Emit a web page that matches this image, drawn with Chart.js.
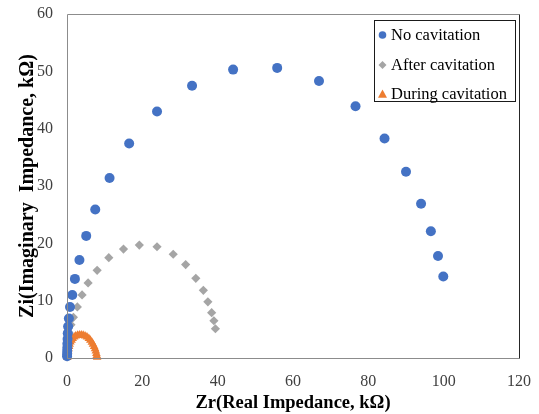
<!DOCTYPE html>
<html>
<head>
<meta charset="utf-8">
<script src="https://cdn.jsdelivr.net/npm/chart.js@4.4.1/dist/chart.umd.min.js"></script>
<style>
  html, body { margin: 0; padding: 0; background: #fff; }
  #wrap { width: 539px; height: 414px; }
</style>
</head>
<body>
<div id="wrap"><canvas id="c" width="539" height="414"></canvas></div>
<script>
// ---- data ----
const seriesNames = ["No cavitation", "After cavitation", "During cavitation"];

const noCavX = [0.02,0.03,0.05,0.08,0.1,0.15,0.2,0.3,0.5,0.8,1.4,2.1,3.3,5.1,7.5,11.3,16.5,23.9,33.2,44.1,55.8,66.9,76.6,84.3,90.0,94.0,96.6,98.5,99.9];
const noCavY = [0.3,0.7,1.2,1.8,2.5,3.3,4.3,5.5,6.9,8.9,11.0,13.8,17.1,21.3,25.9,31.4,37.4,43.0,47.5,50.3,50.6,48.3,43.9,38.3,32.5,26.9,22.1,17.8,14.2];

const afterCavX = [0.02,0.05,0.1,0.2,0.3,0.5,1.06,1.7,2.75,4.0,5.6,8.0,11.1,15.0,19.2,23.9,28.2,31.5,34.2,36.2,37.4,38.4,39.0,39.4];
const afterCavY = [0.2,0.7,1.4,2.2,3.2,4.4,5.8,7.1,8.9,11.0,13.1,15.3,17.5,19.0,19.7,19.4,18.1,16.3,13.9,11.8,9.8,7.9,6.5,5.1];

const duringCavX = [0.1,0.15,0.2,0.3,0.4,0.55,0.7,0.9,1.2,1.5,1.9,2.3,2.8,3.3,3.8,4.3,4.8,5.3,5.8,6.2,6.6,6.9,7.2,7.45,7.65,7.8,7.9,8.0];
const duringCavY = [0.1,0.4,0.8,1.2,1.6,2.0,2.4,2.8,3.1,3.4,3.65,3.85,3.95,4.0,4.0,3.95,3.85,3.65,3.4,3.1,2.75,2.4,2.0,1.6,1.2,0.8,0.45,0.15];

const xTicks = [0,20,40,60,80,100,120];
const yTicks = [0,10,20,30,40,50,60];

const xTitle = "Zr(Real Impedance, k\u03A9)";
const yTitle = "Zi(Imaginary  Impedance, k\u03A9)";

// ---- build ----
const toPts = (xs, ys) => xs.map((x, i) => ({ x: x, y: ys[i] }));

const colors = ["#4472C4", "#A5A5A5", "#ED7D31"];
const styles = ["circle", "rectRot", "triangle"];
const radii = [5, 4.6, 5];

const SERIF = "'Liberation Serif', 'Times New Roman', serif";

const frameAndLegend = {
  id: 'frameAndLegend',
  afterDraw(chart) {
    const ctx = chart.ctx;
    const a = chart.chartArea;
    ctx.save();
    // plot frame
    ctx.lineWidth = 1;
    ctx.strokeStyle = '#8c8c8c';
    ctx.beginPath();
    ctx.moveTo(a.left + 0.5, a.bottom + 0.5);
    ctx.lineTo(a.left + 0.5, a.top + 0.5);
    ctx.lineTo(a.right + 0.5, a.top + 0.5);
    ctx.stroke();
    ctx.beginPath();
    ctx.moveTo(a.left + 0.5, a.bottom + 0.5);
    ctx.lineTo(a.right + 0.5, a.bottom + 0.5);
    ctx.stroke();
    ctx.strokeStyle = '#262626';
    ctx.beginPath();
    ctx.moveTo(a.right + 0.5, a.top + 0.5);
    ctx.lineTo(a.right + 0.5, a.bottom + 0.5);
    ctx.stroke();

    // legend box
    const bw = 141, bh = 81;
    const bx = a.right - 4 - bw, by = a.top + 6;
    ctx.fillStyle = '#ffffff';
    ctx.fillRect(bx, by, bw, bh);
    ctx.strokeStyle = '#1a1a1a';
    ctx.strokeRect(bx + 0.5, by + 0.5, bw, bh);
    ctx.font = "16.5px " + SERIF;
    ctx.textBaseline = 'middle';
    ctx.textAlign = 'left';
    const rowY = [15, 45, 74];
    seriesNames.forEach((name, i) => {
      const cy = by + rowY[i];
      const mx = bx + 8.5;
      ctx.fillStyle = colors[i];
      ctx.beginPath();
      if (i === 0) {
        ctx.arc(mx, cy, 3.8, 0, Math.PI * 2);
      } else if (i === 1) {
        ctx.moveTo(mx, cy - 4); ctx.lineTo(mx + 4, cy); ctx.lineTo(mx, cy + 4); ctx.lineTo(mx - 4, cy);
        ctx.closePath();
      } else {
        ctx.moveTo(mx, cy - 4.5); ctx.lineTo(mx + 4.5, cy + 3.8); ctx.lineTo(mx - 4.5, cy + 3.8);
        ctx.closePath();
      }
      ctx.fill();
      ctx.fillStyle = '#000000';
      ctx.fillText(name, bx + 17, cy + 1);
    });
    ctx.restore();
  }
};

new Chart(document.getElementById('c'), {
  type: 'scatter',
  data: {
    datasets: [
      { label: seriesNames[0], data: toPts(noCavX, noCavY) },
      { label: seriesNames[1], data: toPts(afterCavX, afterCavY) },
      { label: seriesNames[2], data: toPts(duringCavX, duringCavY) }
    ].map((d, i) => Object.assign(d, {
      pointStyle: styles[i],
      pointRadius: radii[i],
      pointHoverRadius: radii[i],
      backgroundColor: colors[i],
      borderColor: colors[i],
      borderWidth: 0,
      showLine: false,
      clip: false
    }))
  },
  options: {
    responsive: false,
    animation: false,
    devicePixelRatio: 1,
    layout: { padding: { top: 14, right: 20, left: 0, bottom: 0 } },
    plugins: {
      legend: { display: false },
      tooltip: { enabled: false }
    },
    scales: {
      x: {
        type: 'linear',
        min: 0, max: 120,
        afterBuildTicks(scale) { scale.ticks = xTicks.map(v => ({ value: v })); },
        afterFit(scale) {
          scale.height = 56;
          scale.paddingLeft = 0; scale.paddingRight = 0;
          scale.paddingTop = 0; scale.paddingBottom = 0;
        },
        grid: { display: false, drawTicks: false },
        border: { display: false },
        ticks: { padding: 14, color: '#404040', font: { family: SERIF, size: 16 }, maxRotation: 0 },
        title: { display: true, text: xTitle, color: '#000', padding: { top: 0, bottom: 0 },
                 font: { family: SERIF, size: 18.5, weight: 'bold' } }
      },
      y: {
        type: 'linear',
        min: 0, max: 60,
        afterBuildTicks(scale) { scale.ticks = yTicks.map(v => ({ value: v })); },
        afterFit(scale) {
          scale.width = 67;
          scale.paddingLeft = 0; scale.paddingRight = 0;
          scale.paddingTop = 0; scale.paddingBottom = 0;
        },
        grid: { display: false, drawTicks: false },
        border: { display: false },
        ticks: { padding: 14, color: '#404040', font: { family: SERIF, size: 16 } },
        title: { display: true, text: yTitle, color: '#000', padding: { top: 16, bottom: 0 },
                 font: { family: SERIF, size: 20, weight: 'bold' } }
      }
    }
  },
  plugins: [frameAndLegend]
});
</script>
</body>
</html>
